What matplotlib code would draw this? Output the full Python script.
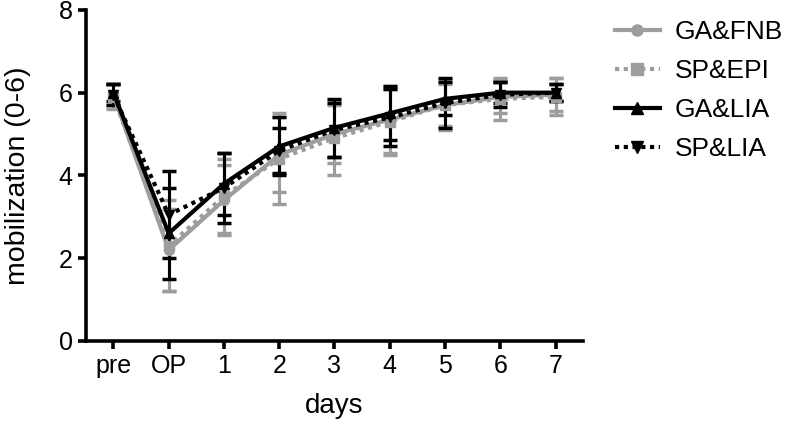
import matplotlib
matplotlib.use("Agg")
import matplotlib.pyplot as plt
from matplotlib.lines import Line2D
import numpy as np

plt.rcParams['font.family'] = ['Liberation Sans', 'DejaVu Sans']

# time points
days = ['pre', 'OP', '1', '2', '3', '4', '5', '6', '7']

# means and error bars per group
ga_fnb = [5.95, 2.2, 3.4, 4.5, 5.0, 5.35, 5.7, 5.9, 5.95]
ga_fnb_err = [0.25, 1.0, 0.85, 0.9, 0.7, 0.8, 0.5, 0.4, 0.4]
sp_epi = [5.9, 2.3, 3.5, 4.4, 4.9, 5.3, 5.7, 5.85, 5.9]
sp_epi_err = [0.3, 1.1, 0.9, 1.1, 0.9, 0.8, 0.6, 0.5, 0.45]
ga_lia = [6.0, 2.6, 3.8, 4.7, 5.15, 5.5, 5.85, 6.0, 6.0]
ga_lia_err = [0.2, 1.1, 0.75, 0.7, 0.7, 0.65, 0.4, 0.25, 0.2]
sp_lia = [5.95, 3.05, 3.7, 4.6, 5.1, 5.4, 5.75, 5.95, 6.0]
sp_lia_err = [0.25, 1.05, 0.85, 0.55, 0.65, 0.7, 0.6, 0.3, 0.2]

gray = "#9d9d9d"
dotted = (0, (1.0, 1.1))

series = [
    ("GA&FNB", ga_fnb, ga_fnb_err, gray, "-", "o"),
    ("SP&EPI", sp_epi, sp_epi_err, gray, dotted, "s"),
    ("GA&LIA", ga_lia, ga_lia_err, "black", "-", "^"),
    ("SP&LIA", sp_lia, sp_lia_err, "black", dotted, "v"),
]

fig = plt.figure(figsize=(7.87, 4.3), dpi=100)
ax = fig.add_axes([0.109, 0.207, 0.632, 0.77])

x = np.arange(len(days))
handles = []
for name, vals, err, col, ls, mk in series:
    ax.errorbar(x, vals, yerr=err, color=col, linestyle=ls, linewidth=3,
                marker=mk, markersize=7, elinewidth=2.2, capsize=5, capthick=2.5)
    handles.append(Line2D([0], [0], color=col, linestyle=ls, linewidth=3,
                          marker=mk, markersize=8, label=name))

ax.set_xlim(-0.5, 8.5)
ax.set_ylim(0, 8)
ax.set_yticks([0, 2, 4, 6, 8])
ax.set_xticks(x)
ax.set_xticklabels(days)
for s in ["top", "right"]:
    ax.spines[s].set_visible(False)
for s in ["left", "bottom"]:
    ax.spines[s].set_linewidth(2.6)
ax.tick_params(width=2.6, length=6, labelsize=18)
ax.set_xlabel("days", fontsize=20, labelpad=11)
ax.set_ylabel("mobilization (0-6)", fontsize=20.5, labelpad=20)

fig.legend(handles=handles, loc="upper left", bbox_to_anchor=(0.768, 0.978),
           borderaxespad=0, frameon=False, fontsize=19, handlelength=1.7,
           labelspacing=0.57, handletextpad=0.57)

fig.savefig("out.png", dpi=100)
